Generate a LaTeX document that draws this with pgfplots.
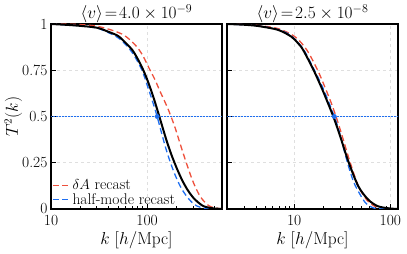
\documentclass[border=0pt]{standalone}
\usepackage{pgfplots}
\pgfplotsset{compat=1.18}
\definecolor{myred}{RGB}{238,80,60}
\definecolor{myblue}{RGB}{30,110,240}
\tikzset{
  blk/.style={black, line width=2pt},
  rdash/.style={myred, line width=1.3pt, dash pattern=on 6pt off 3.5pt},
  bdash/.style={myblue, line width=1.3pt, dash pattern=on 6pt off 3.5pt},
}
\pgfplotsset{
  every axis/.append style={
    scale only axis, width=171pt, height=185pt,
    ymin=0, ymax=1,
    axis line style={line width=1.1pt},
    tick style={black, line width=0.8pt},
    tick align=inside, xtick pos=left, ytick pos=left,
    major tick length=5pt, minor tick length=3pt,
    grid=major, major grid style={dashed, gray!25, line width=0.5pt},
    ytick={0,0.25,0.5,0.75,1},
    tick label style={font=\fontsize{15.5}{17}\selectfont},
    xticklabel style={yshift=-3pt},
    label style={font=\fontsize{16.3}{18}\selectfont},
    title style={font=\fontsize{16.5}{18}\selectfont, at={(0.5,1)}, anchor=base, yshift=-1pt},
    xlabel style={at={(0.5,0)}, anchor=base, yshift=-35pt},
  }
}
\begin{document}
\begin{tikzpicture}
\begin{semilogxaxis}[
  xmin=10, xmax=600,
  xlabel={$k\ [h/\mathrm{Mpc}]$},
  xtick={10,100}, xticklabels={10,100},
  minor xtick={20,30,40,50,60,70,80,90,200,300,400,500,600},
  yticklabels={0,0.25,0.5,0.75,1},
  ylabel={$T^2(k)$},
  ylabel style={at={(-0.22,0.5)}, anchor=center},
  title={$\langle v\rangle\!=\!4.0\times10^{-9}$},
  legend style={at={(0,0)}, anchor=south west, draw=none, fill=none,
    font=\fontsize{15.5}{17}\selectfont, row sep=-2pt, inner xsep=1pt, inner ysep=1pt},
  legend cell align=left,
]
\addplot[myred, rdash, smooth, forget plot] coordinates {(10,1.0) (15,0.999) (21.5,0.996) (30,0.988) (41,0.97) (55,0.945) (66.5,0.914) (80,0.87) (91.4,0.823) (105,0.76) (121,0.697) (135,0.64) (148,0.595) (162,0.55) (177,0.5) (195,0.44) (215,0.37) (239,0.295) (265,0.225) (292,0.163) (320,0.114) (356,0.068) (400,0.035) (436,0.018) (500,0.006) (600,0.001)};
\addplot[myblue, bdash, smooth, forget plot] coordinates {(10,1.0) (15,0.995) (20,0.99) (30,0.978) (40,0.952) (50,0.925) (60,0.888) (70,0.845) (80,0.795) (90,0.74) (100,0.67) (110,0.605) (118,0.555) (127,0.5) (143,0.4) (160,0.31) (181,0.228) (205,0.158) (230,0.106) (260,0.066) (292,0.036) (330,0.016) (386,0.005) (450,0.001) (600,0)};
\addplot[myblue, line width=0.5pt, densely dotted, forget plot] coordinates {(10,0.5) (600,0.5)};
\addplot[blk, smooth, forget plot] coordinates {(10,1.0) (15,0.995) (20,0.99) (30,0.98) (40,0.957) (50,0.935) (60,0.897) (70,0.86) (80,0.81) (90,0.757) (100,0.70) (112,0.629) (120,0.581) (134,0.499) (145,0.439) (160,0.366) (180,0.289) (204,0.218) (230,0.158) (259,0.109) (290,0.072) (316,0.05) (350,0.03) (386,0.015) (450,0.006) (520,0.002) (600,0.0005)};
\addplot[myblue, only marks, mark=*, mark size=2.2pt, forget plot] coordinates {(127,0.5)};
\addlegendimage{draw=myred, color=myred, line width=1.3pt, dash pattern=on 6pt off 3.5pt}
\addlegendentry{$\delta A$ recast}
\addlegendimage{draw=myblue, color=myblue, line width=1.3pt, dash pattern=on 6pt off 3.5pt}
\addlegendentry{half-mode recast}
\end{semilogxaxis}
\begin{semilogxaxis}[at={(176pt,0pt)},
  xmin=2, xmax=120,
  xlabel={$k\ [h/\mathrm{Mpc}]$},
  xtick={10,100}, xticklabels={10,100},
  minor xtick={2,3,4,5,6,7,8,9,20,30,40,50,60,70,80,90},
  yticklabels={},
  title={$\langle v\rangle\!=\!2.5\times10^{-8}$},
]
\addplot[myblue, line width=0.5pt, densely dotted] coordinates {(2,0.5) (120,0.5)};
\addplot[myred, rdash, smooth] coordinates {(2,1) (3,0.997) (4.22,0.992) (6.81,0.975) (10.2,0.931) (13.5,0.86) (17.5,0.751) (20.8,0.66) (24,0.58) (27.2,0.5) (31.1,0.405) (38,0.255) (46.4,0.125) (56.6,0.05) (69,0.014) (85,0.002) (120,0)};
\addplot[myblue, bdash, smooth] coordinates {(2,1) (3,0.996) (4.22,0.99) (6.81,0.97) (9.37,0.935) (12.4,0.865) (15.8,0.762) (19.2,0.672) (22.5,0.587) (26.1,0.5) (29,0.43) (33.7,0.3) (38,0.205) (42.8,0.13) (54.4,0.037) (66.5,0.006) (80,0.001) (120,0)};
\addplot[blk, smooth] coordinates {(2,1) (3,0.996) (4.22,0.989) (6.81,0.968) (9.37,0.931) (11,0.895) (12.4,0.859) (15.8,0.754) (19.2,0.657) (22,0.583) (25.5,0.5) (29.9,0.397) (36.5,0.258) (46.4,0.123) (59,0.05) (75,0.014) (103,0.002) (120,0)};
\addplot[myblue, only marks, mark=*, mark size=2.2pt] coordinates {(26.1,0.5)};
\end{semilogxaxis}
\pgfresetboundingbox
\path[use as bounding box] (-51pt,-45pt) rectangle (356pt,209pt);
\end{tikzpicture}
\end{document}
